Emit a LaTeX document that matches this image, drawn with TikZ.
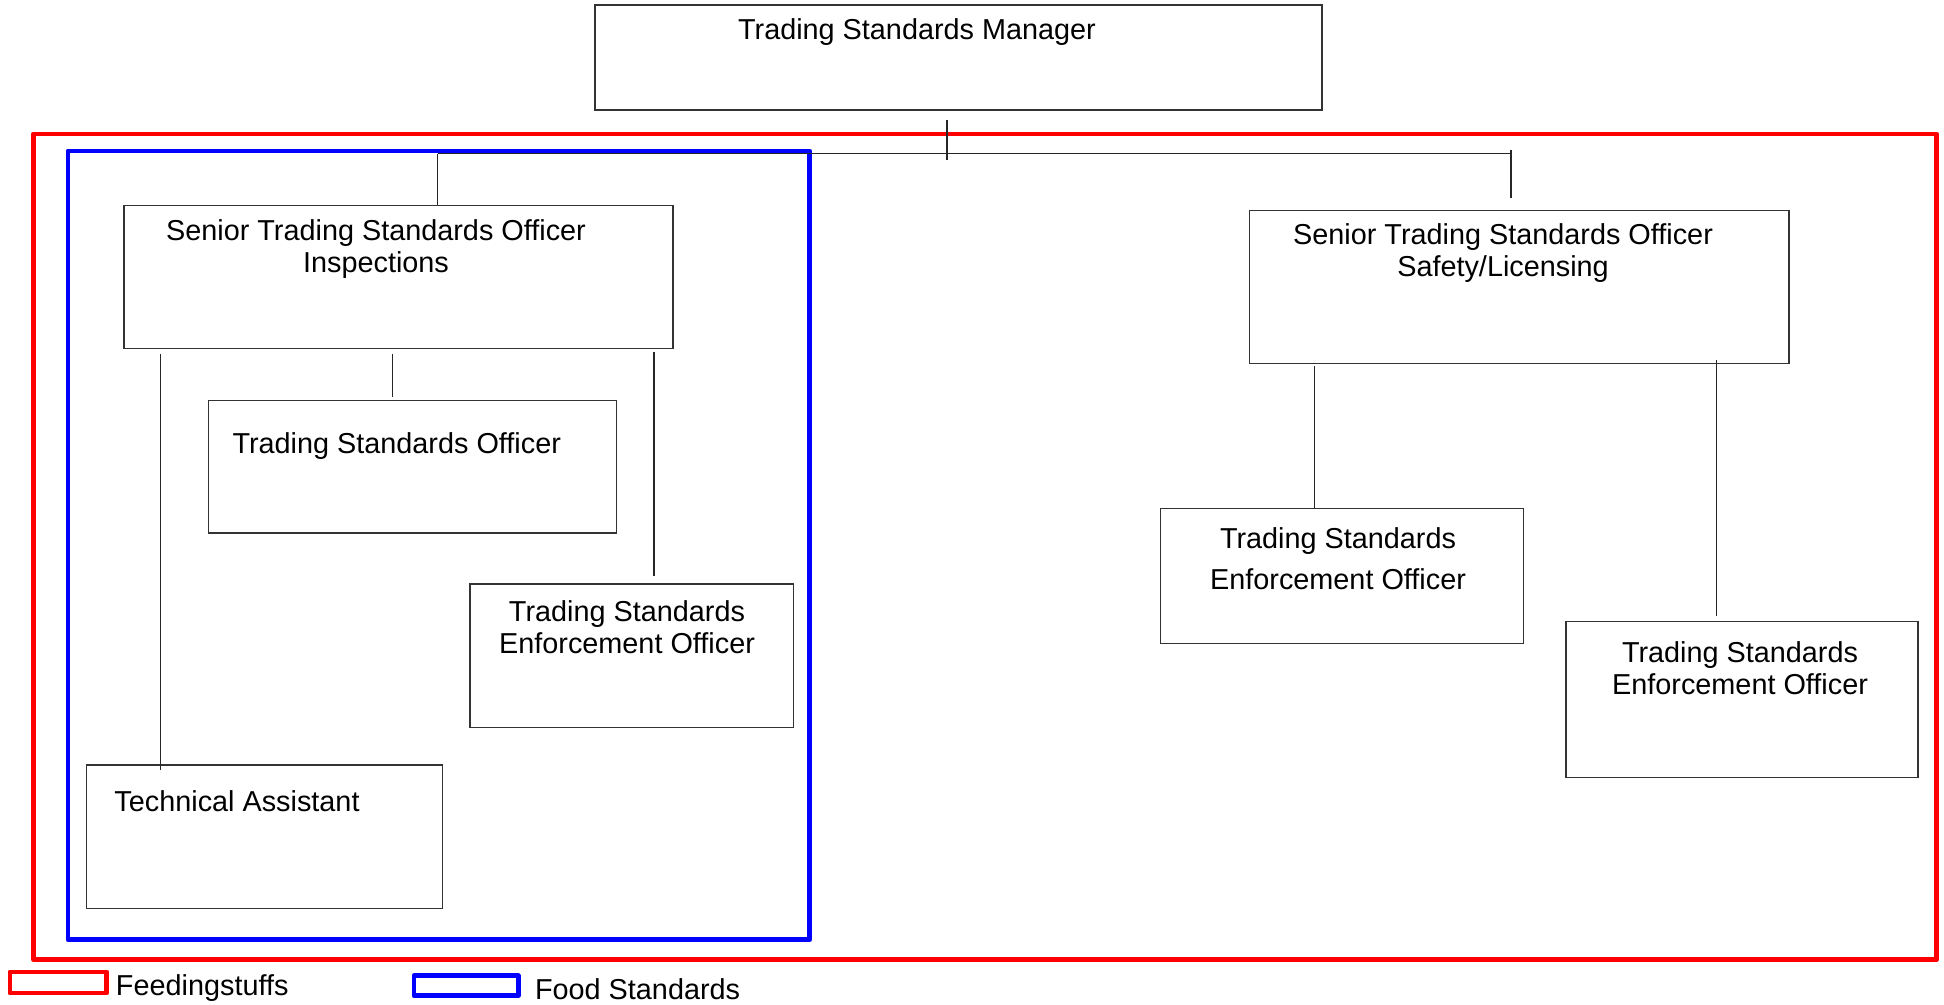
\documentclass[tikz,border=0pt]{standalone}
\usepackage{fontspec}
\setmainfont{Liberation Sans}
\usetikzlibrary{positioning}

\begin{document}
\begin{tikzpicture}[font=\fontsize{8.2pt}{9.1pt}\selectfont,
  post/.style={draw=black!80, line width=0.35pt, inner sep=0pt},
  posttext/.style={inner sep=0pt, align=center},
  link/.style={draw=black!85, line width=0.35pt},
  frame/.style={line width=1.4pt, line join=round},
  legendkey/.style={line width=1.4pt, inner sep=0pt, line join=round}]
\useasboundingbox (0,0) rectangle (19.44,-10.04);

% groupings
\draw[frame, red] (0.335,-1.34) rectangle (19.366,-9.596);
\draw[frame, blue] (0.68,-1.51) rectangle (8.096,-9.398);

% posts
\node[post, minimum width=7.27cm, minimum height=1.05cm] (mgr) at (9.585,-0.575) {};
\node[post, minimum width=5.49cm, minimum height=1.426cm] (stsoi) at (3.985,-2.77) {};
\node[post, minimum width=5.393cm, minimum height=1.525cm] (stsos) at (15.194,-2.87) {};
\node[post, minimum width=4.08cm, minimum height=1.325cm] (tso) at (4.123,-4.668) {};
\node[post, minimum width=3.235cm, minimum height=1.438cm] (tseol) at (6.318,-6.559) {};
\node[post, minimum width=3.558cm, minimum height=1.438cm] (ta) at (2.647,-8.369) {};
\node[post, minimum width=3.632cm, minimum height=1.352cm] (tseor1) at (13.42,-5.759) {};
\node[post, minimum width=3.52cm, minimum height=1.563cm] (tseor2) at (17.42,-6.993) {};

% titles
\node[posttext] (mgrlabel) at (9.17,-0.325) {Trading Standards Manager};
\node[posttext] (stsoilabel) at (3.76,-2.492) {Senior Trading Standards Officer\\Inspections};
\node[posttext] (stsoslabel) at (15.03,-2.535) {Senior Trading Standards Officer\\Safety/Licensing};
\node[posttext] (tsolabel) at (3.967,-4.463) {Trading Standards Officer};
\node[posttext] (tseollabel) at (6.27,-6.275) {Trading Standards\\Enforcement Officer};
\node[posttext] (talabel) at (2.37,-8.009) {Technical Assistant};
\node[posttext] (tseor1label) at (13.38,-5.585) {Trading Standards\\[2.5pt]Enforcement Officer};
\node[posttext] (tseor2label) at (17.40,-6.685) {Trading Standards\\Enforcement Officer};

% reporting lines
\coordinate (busl) at (4.376,-1.537);
\coordinate (busr) at (15.11,-1.537);
\draw[link] ([xshift=-1.15mm,yshift=-0.9mm]mgr.south) coordinate (m) -- ++(0,-0.40);
\draw[link] (busl) -- (busr);
\draw[link] (busl) -- (busl |- stsoi.north);
\draw[link] ([yshift=0.37mm]busr) -- ([yshift=1.24mm]busr |- stsos.north);
\draw[link] ([xshift=3.72mm,yshift=-0.5mm]stsoi.south west) coordinate (s1) -- ([yshift=-0.6mm]s1 |- ta.north);
\draw[link] ([xshift=26.9mm,yshift=-0.5mm]stsoi.south west) coordinate (s2) -- ([yshift=0.25mm]s2 |- tso.north);
\draw[link] ([xshift=53.06mm,yshift=-0.3mm]stsoi.south west) coordinate (s3) -- ([yshift=0.75mm]s3 |- tseol.north);
\draw[link] ([xshift=6.57mm,yshift=-0.24mm]stsos.south west) coordinate (r1) -- (r1 |- tseor1.north);
\draw[link] ([xshift=46.73mm,yshift=0.38mm]stsos.south west) coordinate (r2) -- ([yshift=0.5mm]r2 |- tseor2.north);

% legend
\node[legendkey, draw=red, minimum width=0.966cm, minimum height=0.21cm] (feedkey) at (0.583,-9.825) {};
\node[posttext, right=0.062cm of feedkey, yshift=-0.06cm] (feedlabel) {Feedingstuffs};
\node[legendkey, draw=blue, minimum width=1.042cm, minimum height=0.2cm] (foodkey) at (4.661,-9.857) {};
\node[posttext, right=0.137cm of foodkey, yshift=-0.03cm] (foodlabel) {Food Standards};

\end{tikzpicture}
\end{document}
